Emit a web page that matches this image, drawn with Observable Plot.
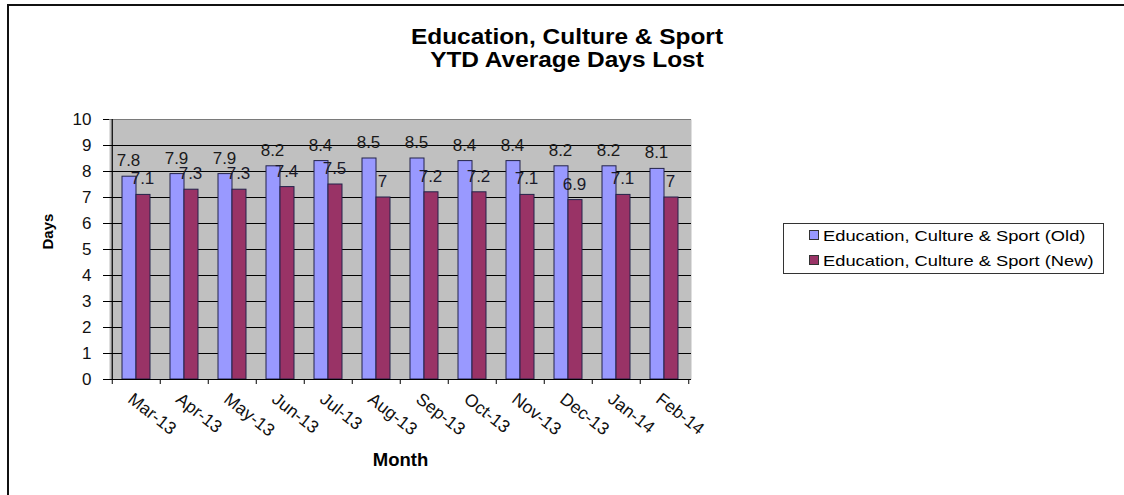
<!DOCTYPE html>
<html>
<head>
<meta charset="utf-8">
<script src="https://cdn.jsdelivr.net/npm/d3@7"></script>
<script src="https://cdn.jsdelivr.net/npm/@observablehq/plot@0.6"></script>
<style>
  html, body { margin: 0; padding: 0; background: #fff; }
  #wrap { position: relative; width: 1124px; height: 495px; overflow: hidden; font-family: "Liberation Sans", Arial, sans-serif; }
  #frameTop { position: absolute; left: 7px; top: 4px; width: 1117px; height: 0; border-top: 2px solid #111; }
  #frameLeft { position: absolute; left: 7px; top: 4px; width: 0; height: 491px; border-left: 2px solid #111; }
  #title { position: absolute; left: 0; width: 1134px; top: 25px; text-align: center; font-weight: bold; font-size: 22px; line-height: 23px; color: #000; transform: scaleX(1.11); transform-origin: 567px 0; }
  #legend { position: absolute; left: 783px; top: 223px; width: 319px; height: 49px; border: 1px solid #333; background: #fff; color: #000; }
  .row { position: absolute; left: 25px; height: 20px; line-height: 20px; white-space: nowrap; font-size: 15px; }
  .row .txt { display: inline-block; transform: scaleX(1.22); transform-origin: 0 50%; }
  .sw { display: inline-block; width: 8px; height: 8px; border: 1px solid #333; margin-right: 4px; vertical-align: 1px; }
  #chart { position: absolute; left: 0; top: 0; }
</style>
</head>
<body>
<div id="wrap">
  <div id="chart"></div>
  <div id="frameTop"></div>
  <div id="frameLeft"></div>
  <div id="title"></div>
  <div id="legend"></div>
</div>
<script>
const titleLines = ["Education, Culture & Sport", "YTD Average Days Lost"];
const months = ["Mar-13", "Apr-13", "May-13", "Jun-13", "Jul-13", "Aug-13", "Sep-13", "Oct-13", "Nov-13", "Dec-13", "Jan-14", "Feb-14"];
const seriesNames = ["Education, Culture & Sport (Old)", "Education, Culture & Sport (New)"];
const oldValues = [7.8, 7.9, 7.9, 8.2, 8.4, 8.5, 8.5, 8.4, 8.4, 8.2, 8.2, 8.1];
const newValues = [7.1, 7.3, 7.3, 7.4, 7.5, 7.0, 7.2, 7.2, 7.1, 6.9, 7.1, 7.0];
const yTicks = [0, 1, 2, 3, 4, 5, 6, 7, 8, 9, 10];
const xLabel = "Month";
const yLabel = "Days";
const colors = ["#9999ff", "#993366"];

const table = months.map((m, i) => ({month: m, old: oldValues[i], new: newValues[i]}));

const W = 1124, H = 495, ml = 109, mr = 433, mt = 119, mb = 116;
const step = (W - ml - mr) / months.length;
const pInner = 0.4227, pOuter = pInner / 2;
const bw = step * (1 - pInner);
const barStroke = "#23234a";
const fmt = v => String(v);

const chart = Plot.plot({
  width: W,
  height: H,
  marginLeft: ml,
  marginRight: mr,
  marginTop: mt,
  marginBottom: mb,
  style: {fontFamily: "'Liberation Sans', Arial, sans-serif", fontSize: "15px", color: "#000", background: "transparent", overflow: "visible"},
  x: {type: "band", domain: months, paddingInner: pInner, paddingOuter: pOuter, align: 0.5, label: null},
  y: {domain: [0, 10], label: null},
  marks: [
    Plot.frame({fill: "#c0c0c0", stroke: "none"}),
    Plot.gridY({ticks: yTicks.slice(0, -1), stroke: "#000", strokeOpacity: 1}),
    Plot.ruleY([yTicks[yTicks.length - 1]], {stroke: "#7a7a7a"}),
    Plot.barY(table, {x: "month", y: "old", insetRight: bw / 2, fill: colors[0], stroke: barStroke, strokeWidth: 1}),
    Plot.barY(table, {x: "month", y: "new", insetLeft: bw / 2, fill: colors[1], stroke: barStroke, strokeWidth: 1}),
    Plot.ruleY([0], {stroke: "#000", strokeWidth: 1.2}),
    Plot.ruleX([months[0]], {y1: 0, y2: 10, dx: -step / 2, stroke: "#000", strokeWidth: 1.2}),
    // tick marks
    Plot.axisY({ticks: yTicks, tickSize: 6, tickFormat: () => "", label: null}),
    Plot.axisX({ticks: months, tickFormat: () => "", tickSize: 5, dx: -step / 2, label: null}),
    Plot.axisX({ticks: [months[months.length - 1]], tickFormat: () => "", tickSize: 5, dx: step / 2, label: null}),
    // tick labels
    Plot.text(yTicks, {y: d => d, text: d => String(d), frameAnchor: "left", textAnchor: "end", dx: -18, fontSize: 17, fill: "#111"}),
    Plot.text(months, {x: d => d, text: d => d, frameAnchor: "bottom", textAnchor: "start", lineAnchor: "top", rotate: 38, dx: -2, dy: 12, fontSize: 17.5, fill: "#111"}),
    // value labels
    Plot.text(table, {x: "month", y: "old", text: d => fmt(d.old), dx: -bw / 4 - 1, dy: -16, fontSize: 17, fill: "#1a1a1a"}),
    Plot.text(table, {x: "month", y: "new", text: d => fmt(d.new), dx: bw / 4 - 1, dy: -16, fontSize: 17, fill: "#1a1a2a"}),
    // axis titles
    Plot.text([yLabel], {text: d => d, frameAnchor: "left", dx: -61, rotate: -90, fontWeight: "bold", fontSize: 15}),
    Plot.text([xLabel], {text: d => d, frameAnchor: "bottom", dy: 86, fontWeight: "bold", fontSize: 18.5})
  ]
});
document.getElementById("chart").appendChild(chart);

document.getElementById("title").innerHTML = titleLines.map(t => t.replace(/&/g, "&amp;")).join("<br>");
const legend = document.getElementById("legend");
seriesNames.forEach((name, i) => {
  const row = document.createElement("div");
  row.className = "row";
  row.style.top = (2 + i * 25) + "px";
  const sw = document.createElement("span");
  sw.className = "sw";
  sw.style.background = colors[i];
  row.appendChild(sw);
  const txt = document.createElement("span");
  txt.className = "txt";
  txt.textContent = name;
  row.appendChild(txt);
  legend.appendChild(row);
});
</script>
</body>
</html>
